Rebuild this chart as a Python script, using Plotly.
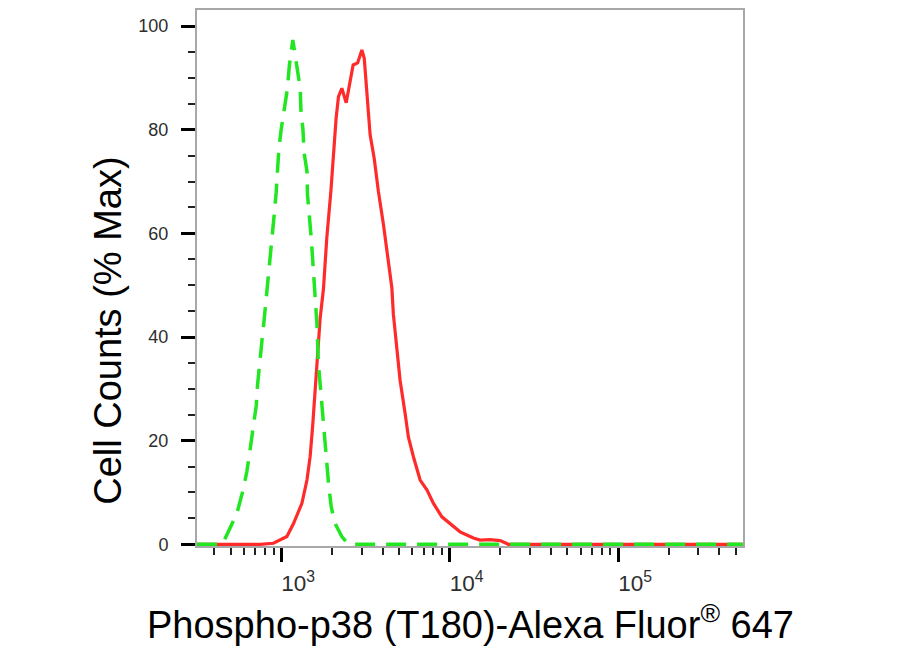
import plotly.graph_objects as go

# isotype control (green dashed)
ctrl_x = [316, 447, 493, 546, 593, 625, 655, 679, 711, 723, 750, 767, 793, 815, 834, 861,
          881, 908, 933, 951, 968, 1000, 1042, 1089, 1119, 1172, 1239, 1297, 1309, 1346,
          1368, 1422, 1432, 1472, 1507, 1535, 1570, 1629, 1663, 1702, 1746, 1799, 1849,
          1910, 1982, 2089, 2291, 2506, 550000]
ctrl_y = [0, 0, 2.9, 6.0, 10.4, 14.0, 18.5, 21.7, 26.8, 30.6, 35.1, 39.0, 43.5, 47.3, 51.5, 55.3,
          59.7, 63.5, 67.8, 71.7, 76.2, 80.1, 84.3, 88.0, 92.5, 97.3, 92.2, 88.0, 83.8, 80.0,
          75.5, 72.0, 67.5, 63.7, 59.2, 55.3, 51.2, 42.6, 34.9, 31.0, 25.8, 20.7, 16.2,
          11.7, 7.2, 4.0, 1.5, 0, 0]

# Phospho-p38 (T180) stained (red)
p38_x = [316, 750, 899, 986, 1081, 1183, 1327, 1422, 1486, 1538, 1581, 1626, 1671, 1702,
         1782, 1866, 1972, 2042, 2118, 2188, 2291, 2432, 2553, 2673, 2844, 3013, 3112, 3251,
         3373, 3565, 3776, 4046, 4335, 4539, 4634, 4864, 5082, 5445, 5689, 6095, 6683,
         7328, 8017, 8995, 10544, 11535, 12647, 13836, 15171, 17378, 19953, 22336, 550000]
p38_y = [0, 0, 0.2, 0.8, 1.5, 4.0, 7.9, 12.4, 17.0, 22.9, 29.1, 35.4, 40.3, 43.5,
         49.3, 59.2, 68.1, 75.8, 82.2, 86.4, 88.0, 85.2, 88.7, 92.5, 92.9, 95.4, 93.8, 86.1,
         79.0, 74.5, 68.1, 61.7, 54.7, 49.5, 44.4, 38.0, 31.6, 25.2, 20.7, 16.9, 12.4,
         10.5, 7.9, 5.3, 3.4, 2.4, 1.8, 1.2, 0.8, 0.9, 0.7, 0, 0]

W, H = 918, 654
OFF = 8  # page offset of the figure in the browser
L, R, T, B = 197 - OFF, 918 - 743 + OFF, 0, H - (546 - OFF)

fig = go.Figure()
fig.add_trace(go.Scatter(x=p38_x, y=p38_y, mode="lines",
                         line=dict(color="#ff2b2b", width=3.2), showlegend=False))
fig.add_trace(go.Scatter(x=ctrl_x, y=ctrl_y, mode="lines",
                         line=dict(color="#22e622", width=3.5, dash="20px,11px"),
                         showlegend=False))

tickfont = dict(family="Arial, Liberation Sans", size=18, color="#2e2e2e")

fig.update_xaxes(
    type="log", range=[2.5, 5.742],
    dtick=1, tick0=0, exponentformat="power",
    ticks="outside", ticklen=14, tickwidth=3, tickcolor="black",
    minor=dict(ticks="outside", dtick="D1", ticklen=7, tickwidth=1.5, tickcolor="#222"),
    ticklabelshift=17, ticklabelstandoff=3,
    showline=True, mirror=True, linecolor="#a8a8a8", linewidth=2,
    showgrid=False, zeroline=False, tickfont=tickfont,
)
fig.update_yaxes(
    range=[-0.33, 103.1], dtick=20, tick0=0,
    ticks="outside", ticklen=14, tickwidth=3, tickcolor="black",
    minor=dict(ticks="outside", dtick=5, ticklen=7, tickwidth=1.5, tickcolor="#222"),
    ticklabelstandoff=9,
    showline=True, mirror=True, linecolor="#a8a8a8", linewidth=2,
    showgrid=False, zeroline=False, tickfont=tickfont,
)

pw = W - L - R
ph = H - T - B
titlefont = dict(family="Arial, Liberation Sans", size=38, color="black")
fig.add_annotation(text="Phospho-p38 (T180)-Alexa Fluor<sup>®</sup> 647",
                   xref="paper", yref="paper",
                   x=(470 - OFF - L) / pw, y=(H - B - (622 - OFF)) / ph,
                   xanchor="center", yanchor="middle", showarrow=False, font=titlefont)
fig.add_annotation(text="Cell Counts (% Max)", textangle=-90,
                   xref="paper", yref="paper",
                   x=(108 - OFF - L) / pw, y=(H - B - (330 - OFF)) / ph,
                   xanchor="center", yanchor="middle", showarrow=False, font=titlefont)

fig.update_layout(
    width=W, height=H,
    margin=dict(l=L, r=R, t=T, b=B),
    plot_bgcolor="white", paper_bgcolor="white",
)

fig.write_html("out.html")
